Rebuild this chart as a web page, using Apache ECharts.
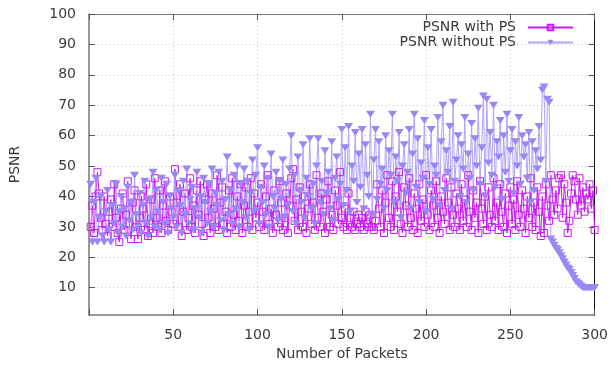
<!DOCTYPE html>
<html>
<head>
<meta charset="utf-8">
<script src="https://cdn.jsdelivr.net/npm/echarts@6/dist/echarts.min.js"></script>
<style>
html,body{margin:0;padding:0;background:#fff;}
#chart{width:611px;height:366px;}
</style>
</head>
<body>
<div id="chart"></div>
<script>
const xTicks = [50, 100, 150, 200, 250, 300];
const yTicks = [10, 20, 30, 40, 50, 60, 70, 80, 90, 100];
const seriesNames = ['PSNR with PS', 'PSNR without PS'];

const withPS = [
30,37,28,40,48,41,33,29,40,31,
27,35,39,30,44,33,28,25,36,41,
29,34,45,31,26,38,42,30,26,33,
40,36,29,44,27,31,39,28,46,33,
30,42,28,37,45,32,29,40,35,31,
49,38,30,44,27,35,41,29,33,46,
30,37,28,42,34,45,31,27,39,44,
33,28,41,36,30,47,29,38,43,31,
35,28,42,30,46,34,29,40,32,44,
28,37,43,30,35,46,29,41,33,38,
30,44,35,29,40,47,31,36,28,42,
34,30,45,38,29,33,41,28,37,46,
49,32,39,29,43,35,30,40,28,36,
44,31,38,29,47,33,30,41,35,28,
39,45,30,34,29,42,37,31,48,33,
30,36,29,41,33,30,35,29,31,34,
30,33,29,35,31,30,34,30,29,32,
44,36,30,42,28,38,47,33,30,45,
29,40,35,48,31,28,43,37,30,46,
33,29,41,36,28,44,32,39,30,47,
34,29,42,37,30,45,33,28,40,35,
31,46,38,29,43,34,30,41,36,29,
44,32,39,30,47,35,29,42,33,38,
28,45,36,31,40,29,43,34,30,46,
32,38,29,44,35,30,41,28,37,43,
31,39,29,45,34,30,42,36,28,40,
33,46,30,38,29,43,35,27,40,28,
44,37,32,47,39,34,42,36,46,47,
33,44,38,28,32,41,47,45,39,34,
46,37,43,35,41,39,44,36,42,29
];

const withoutPS = [
44,25,38,46,25,33,40,27,25,35,
42,29,25,37,31,44,28,35,40,30,
36,27,43,32,38,29,47,34,30,41,
28,37,45,31,27,39,33,48,30,42,
35,29,46,38,31,44,28,40,36,33,
47,30,42,37,28,45,34,49,31,39,
43,29,36,48,33,40,28,46,38,31,
44,35,49,30,41,37,48,32,45,29,
39,53,34,42,31,47,36,50,30,44,
38,49,33,45,29,41,52,35,47,56,
31,43,38,50,34,46,30,54,40,36,
48,32,45,39,52,33,44,37,49,60,
35,47,31,53,42,38,57,33,46,40,
59,36,44,31,50,59,38,45,34,55,
41,48,36,58,32,46,53,39,44,62,
37,56,42,63,35,50,45,61,38,54,
43,62,36,57,47,40,67,34,52,62,
39,58,44,49,36,60,42,55,47,67,
38,53,45,61,33,50,57,41,48,62,
36,54,67,43,59,38,51,46,65,35,
56,44,62,39,50,47,66,37,58,70,
42,55,48,63,36,71,45,52,60,40,
57,49,66,38,54,46,64,42,59,50,
69,44,56,73,40,72,51,61,47,70,
43,58,53,65,39,60,48,67,45,55,
62,41,58,50,66,44,60,53,57,46,
61,38,58,42,55,49,63,52,75,76,
45,72,71,26,25,24,23,22.5,21.5,20.5,
19.5,18.5,17.5,16.5,16,15,14,13,12,11.5,
11,10.5,10,10,10,10,10,10,10,10
];

const toPairs = arr => arr.map((v, i) => [i + 1, v]);

const FONT = 'DejaVu Sans';
const TXT = '#3a3a3a';
const MAG = '#c81af0';
const PUR = '#9a86f4';
const PURL = '#b2a4f8';

const grid = { left: 89, right: 13, top: 14, bottom: 42, containLabel: false };
const dotted = { show: true, lineStyle: { color: '#c4c4c4', type: [1, 3], width: 1 } };

const chart = echarts.init(document.getElementById('chart'), null, { renderer: 'canvas' });
chart.setOption({
  animation: false,
  backgroundColor: '#fff',
  textStyle: { fontFamily: FONT },
  grid: grid,
  legend: {
    orient: 'vertical',
    right: 32,
    top: 15,
    align: 'right',
    itemWidth: 45,
    itemHeight: 7,
    itemGap: 0,
    textStyle: { fontFamily: FONT, fontSize: 14, color: TXT, lineHeight: 15, padding: [0, 7, 0, 0] },
    data: seriesNames
  },
  xAxis: [{
    type: 'value', min: 0, max: 300, interval: 50,
    name: 'Number of Packets', nameLocation: 'middle', nameGap: 30,
    nameTextStyle: { fontFamily: FONT, fontSize: 14, color: TXT },
    axisLine: { show: true, onZero: false, lineStyle: { color: '#777', width: 1.5 } },
    axisTick: { show: true, inside: true, length: 6, lineStyle: { color: '#555' } },
    axisLabel: { fontFamily: FONT, fontSize: 14, color: TXT, margin: 13,
      formatter: v => (xTicks.indexOf(v) >= 0 ? String(v) : '') },
    splitLine: dotted
  }, {
    type: 'value', min: 0, max: 300, interval: 50, position: 'top',
    axisLine: { show: true, onZero: false, lineStyle: { color: '#777', width: 1 } },
    axisTick: { show: true, inside: true, length: 6, lineStyle: { color: '#555' } },
    axisLabel: { show: false }, splitLine: { show: false }
  }],
  yAxis: [{
    type: 'value', min: 1, max: 100,
    name: 'PSNR', nameLocation: 'middle', nameGap: 67,
    nameTextStyle: { fontFamily: FONT, fontSize: 14, color: TXT },
    axisLine: { show: true, onZero: false, lineStyle: { color: '#777', width: 1.5 } },
    axisTick: { show: true, inside: true, length: 6, lineStyle: { color: '#555' }, customValues: yTicks },
    axisLabel: { fontFamily: FONT, fontSize: 14, color: TXT, margin: 13, customValues: yTicks },
    splitLine: dotted
  }, {
    type: 'value', min: 1, max: 100, position: 'right',
    axisLine: { show: true, onZero: false, lineStyle: { color: '#111', width: 1 } },
    axisTick: { show: true, inside: true, length: 6, lineStyle: { color: '#555' }, customValues: yTicks },
    axisLabel: { show: false }, splitLine: { show: false }
  }],
  series: [{
    name: seriesNames[0],
    type: 'line',
    xAxisIndex: 0, yAxisIndex: 0,
    data: toPairs(withPS),
    symbol: 'rect',
    symbolSize: 7,
    showSymbol: true,
    showAllSymbol: true,
    lineStyle: { color: MAG, width: 1 },
    itemStyle: { color: 'rgba(255,255,255,0)', borderColor: MAG, borderWidth: 1 },
    emphasis: { disabled: true }
  }, {
    name: seriesNames[1],
    type: 'line',
    xAxisIndex: 0, yAxisIndex: 0,
    data: toPairs(withoutPS),
    symbol: 'triangle',
    symbolRotate: 180,
    symbolSize: [9, 7],
    showSymbol: true,
    showAllSymbol: true,
    lineStyle: { color: PURL, width: 1 },
    itemStyle: { color: PUR },
    emphasis: { disabled: true }
  }]
});
</script>
</body>
</html>
